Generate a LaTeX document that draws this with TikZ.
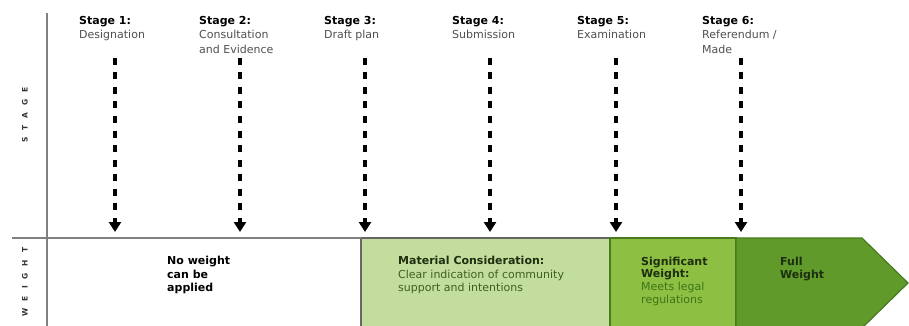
\documentclass[tikz,border=0pt]{standalone}
\usepackage{fontspec}
\setmainfont{DejaVu Sans}
\usetikzlibrary{arrows.meta}
\definecolor{lgreen}{HTML}{C3DD9D}
\definecolor{mgreen}{HTML}{8CBF42}
\definecolor{dgreen}{HTML}{5F9A2A}
\definecolor{edgegreen}{HTML}{4A7A20}
\definecolor{axisgray}{HTML}{808080}
\definecolor{descgray}{HTML}{505050}
\definecolor{olivetext}{HTML}{3F5F22}
\definecolor{leaftext}{HTML}{3F7418}
\definecolor{darktext}{HTML}{1E2E10}
\begin{document}
\begin{tikzpicture}[x=1pt,y=-1pt,
  lbl/.style={anchor=north west,inner sep=0pt,align=left,font=\fontsize{11}{14.5}\selectfont},
  wlbl/.style={anchor=north west,inner sep=0pt,align=left,font=\fontsize{11}{13.5}\selectfont},
  axisline/.style={draw=axisgray,line width=1.5pt},
  stagearrow/.style={line width=4pt,dash pattern=on 7pt off 7.5pt,-{Triangle[width=12pt,length=10pt]}},
  sidelbl/.style={rotate=90,inner sep=0pt,font=\fontsize{7.5}{8}\selectfont\bfseries,text=black!80}]
\useasboundingbox (0,0) rectangle (909,326);
\fill[white] (0,0) rectangle (909,326);

% bottom band
\path[fill=white] (47,238) rectangle (361,328);
\filldraw[fill=lgreen,draw=axisgray!80!black,line width=1.2pt] (361,238) rectangle (610,328);
\filldraw[fill=mgreen,draw=edgegreen,line width=1.2pt] (610,238) rectangle (736,328);
\filldraw[fill=dgreen,draw=edgegreen,line width=1.2pt]
  (736,238) -- (862,238) -- (908,283) -- (862,328) -- (736,328) -- cycle;

% axes
\draw[axisline] (12,238) -- (361,238);
\draw[axisline] (47,13) -- (47,326);

% side labels
\node[sidelbl] (stagelbl) at (25,115) {S\hspace{7pt}T\hspace{7pt}A\hspace{7pt}G\hspace{7pt}E};
\node[sidelbl] (weightlbl) at (25,282) {W\hspace{7pt}E\hspace{7pt}I\hspace{7pt}G\hspace{7pt}H\hspace{7pt}T};

% stage labels
\node[lbl] (s1) at (79,16) {\textbf{Stage 1:}\\\textcolor{descgray}{Designation}};
\node[lbl] (s2) at (199,16) {\textbf{Stage 2:}\\\textcolor{descgray}{Consultation}\\\textcolor{descgray}{and Evidence}};
\node[lbl] (s3) at (324,16) {\textbf{Stage 3:}\\\textcolor{descgray}{Draft plan}};
\node[lbl] (s4) at (452,16) {\textbf{Stage 4:}\\\textcolor{descgray}{Submission}};
\node[lbl] (s5) at (577,16) {\textbf{Stage 5:}\\\textcolor{descgray}{Examination}};
\node[lbl] (s6) at (702,16) {\textbf{Stage 6:}\\\textcolor{descgray}{Referendum /}\\\textcolor{descgray}{Made}};

% arrows
\foreach \i/\x in {1/115,2/240,3/365,4/490,5/616,6/741}{
  \coordinate (a\i s) at (\x,58);
  \coordinate (a\i e) at (\x,232);
  \draw[stagearrow] (a\i s) -- (a\i e);
}

% weight labels
\node[wlbl] (w1) at (167,256) {\textbf{No weight}\\\textbf{can be}\\\textbf{applied}};
\node[wlbl] (w2) at (398,256) {\textbf{\textcolor{darktext}{Material Consideration:}}\\\textcolor{olivetext}{Clear indication of community}\\\textcolor{olivetext}{support and intentions}};
\node[wlbl,font=\fontsize{11}{12.7}\selectfont] (w3) at (641,256.5) {\textbf{\textcolor{darktext}{Significant}}\\\textbf{\textcolor{darktext}{Weight:}}\\\textcolor{leaftext}{Meets legal}\\\textcolor{leaftext}{regulations}};
\node[wlbl,font=\fontsize{11}{13}\selectfont] (w4) at (780,256.5) {\textbf{\textcolor{darktext}{Full}}\\\textbf{\textcolor{darktext}{Weight}}};
\end{tikzpicture}
\end{document}
